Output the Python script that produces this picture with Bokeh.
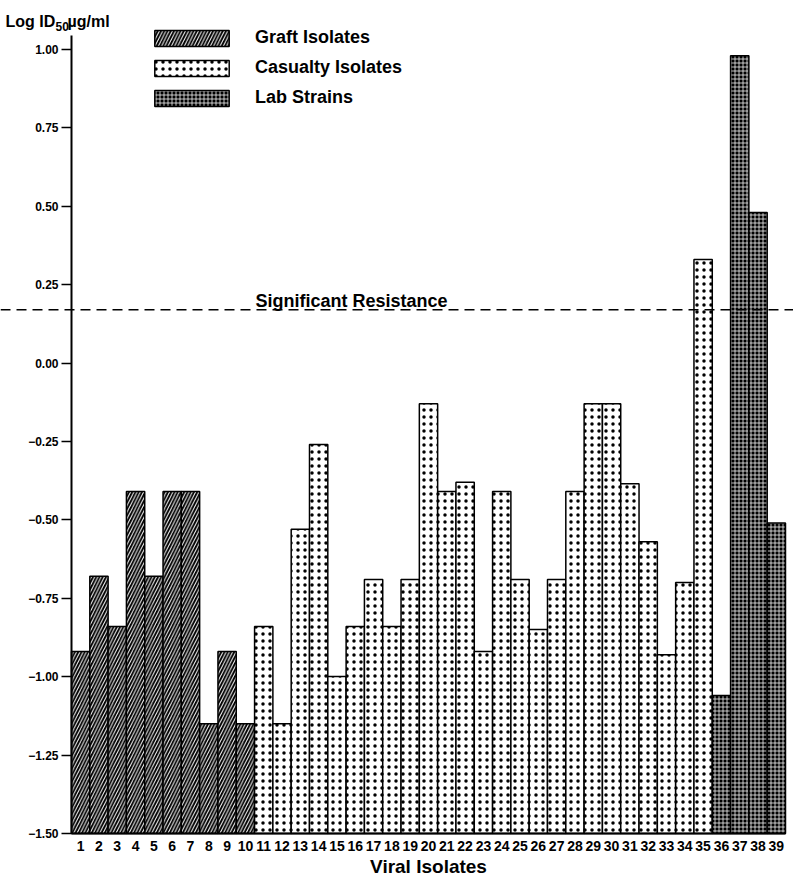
from bokeh.plotting import figure
from bokeh.models import ColumnDataSource, Range1d, FixedTicker, Span, Label, Legend, LegendItem
from bokeh.embed import file_html
from bokeh.resources import INLINE

# ---- data ----
isolates = list(range(1, 40))
groups = ["Graft Isolates"] * 10 + ["Casualty Isolates"] * 25 + ["Lab Strains"] * 4
log_id50 = [-0.92, -0.68, -0.84, -0.41, -0.68, -0.41, -0.41, -1.15, -0.92, -1.15,
            -0.84, -1.15, -0.53, -0.26, -1.00, -0.84, -0.69, -0.84, -0.69, -0.13,
            -0.41, -0.38, -0.92, -0.41, -0.69, -0.85, -0.69, -0.41, -0.13, -0.13,
            -0.385, -0.57, -0.93, -0.70, 0.33,
            -1.06, 0.98, 0.48, -0.51]
group_order = ["Graft Isolates", "Casualty Isolates", "Lab Strains"]
resistance_threshold = 0.17
resistance_label = "Significant Resistance"
y_ticks = [-1.5, -1.25, -1.0, -0.75, -0.5, -0.25, 0.0, 0.25, 0.5, 0.75, 1.0]
y_base, y_axis_top = -1.5, 1.045
y_view = (-1.647, 1.156)

FONT = "Liberation Sans"

styles = {
    "Graft Isolates": dict(fill_color="black", hatch_pattern="/", hatch_color="white",
                           hatch_scale=6.5, hatch_weight=1),
    "Casualty Isolates": dict(fill_color="white", hatch_pattern=".", hatch_color="black",
                              hatch_scale=7, hatch_weight=2.2),
    "Lab Strains": dict(fill_color="black", hatch_pattern="+", hatch_color="white",
                        hatch_scale=4, hatch_weight=1, hatch_alpha=0.75),
}

p = figure(width=793, height=879, output_backend="svg", toolbar_location=None,
           x_range=Range1d(-3.378, 39.937), y_range=Range1d(*y_view),
           min_border_left=0, min_border_right=0, min_border_top=0, min_border_bottom=0)
p.outline_line_color = None
p.xgrid.visible = False
p.ygrid.visible = False

items = []
for g in group_order:
    xs = [x for x, gg in zip(isolates, groups) if gg == g]
    ys = [v for v, gg in zip(log_id50, groups) if gg == g]
    src = ColumnDataSource(dict(x=xs, top=ys))
    r = p.vbar(x="x", top="top", bottom=y_base, width=1.0, source=src,
               line_color="black", line_width=1.5, **styles[g])
    items.append(LegendItem(label=g, renderers=[r]))

# y axis, drawn at the left edge of the first bar
ya = p.yaxis[0]
ya.fixed_location = isolates[0] - 0.5
ya.ticker = FixedTicker(ticks=y_ticks)
ya.major_label_overrides = {t: f"{t:.2f}".replace("-", "\u2212") for t in y_ticks}
ya.bounds = (y_base, y_axis_top)
ya.axis_line_width = 2
ya.major_tick_out = 10
ya.major_tick_in = 0
ya.major_tick_line_width = 1.5
ya.minor_tick_out = 0
ya.minor_tick_in = 0
ya.major_label_standoff = 3
ya.major_label_text_font = FONT
ya.major_label_text_font_style = "bold"
ya.major_label_text_font_size = "12px"
ya.major_label_text_color = "black"

# x axis, drawn along the bar baseline
xa = p.xaxis[0]
xa.fixed_location = y_base
xa.ticker = FixedTicker(ticks=isolates)
xa.bounds = (isolates[0] - 0.5, isolates[-1] + 0.5)
xa.axis_line_width = 2
xa.major_tick_out = 0
xa.major_tick_in = 0
xa.minor_tick_out = 0
xa.minor_tick_in = 0
xa.major_label_standoff = 8
xa.major_label_text_font = FONT
xa.major_label_text_font_style = "bold"
xa.major_label_text_font_size = "14px"
xa.major_label_text_color = "black"
xa.axis_label = "Viral Isolates"
xa.axis_label_standoff = 1
xa.axis_label_text_font = FONT
xa.axis_label_text_font_style = "bold"
xa.axis_label_text_font_size = "19px"
xa.axis_label_text_color = "black"

# threshold
p.add_layout(Span(location=resistance_threshold, dimension="width", line_color="black",
                  line_width=1.5, line_dash="10 6"))
p.add_layout(Label(x=10.55, y=resistance_threshold, y_offset=9, text=resistance_label,
                   text_font=FONT, text_font_style="bold", text_font_size="18px",
                   text_baseline="alphabetic", text_color="black"))

# y title (Log ID50 µg/ml)
for txt, sx, dy, fs in [("Log ID", 5, 0, "16px"), ("50", 55, -5, "12px"), ("\u00b5g/ml", 67, 0, "16px")]:
    p.add_layout(Label(x=sx, x_units="screen", y=1.089, y_offset=dy, text=txt,
                       text_font=FONT, text_font_style="bold", text_font_size=fs,
                       text_baseline="alphabetic", text_color="black"))

legend = Legend(items=items, location=(145, 771), glyph_width=93, glyph_height=20,
                label_height=20, spacing=9, padding=0, margin=0, label_standoff=17,
                label_text_font=FONT, label_text_font_style="bold",
                label_text_font_size="18px", label_text_color="black",
                border_line_alpha=0, background_fill_alpha=0)
p.add_layout(legend)

open("out.html", "w").write(file_html(p, INLINE))
